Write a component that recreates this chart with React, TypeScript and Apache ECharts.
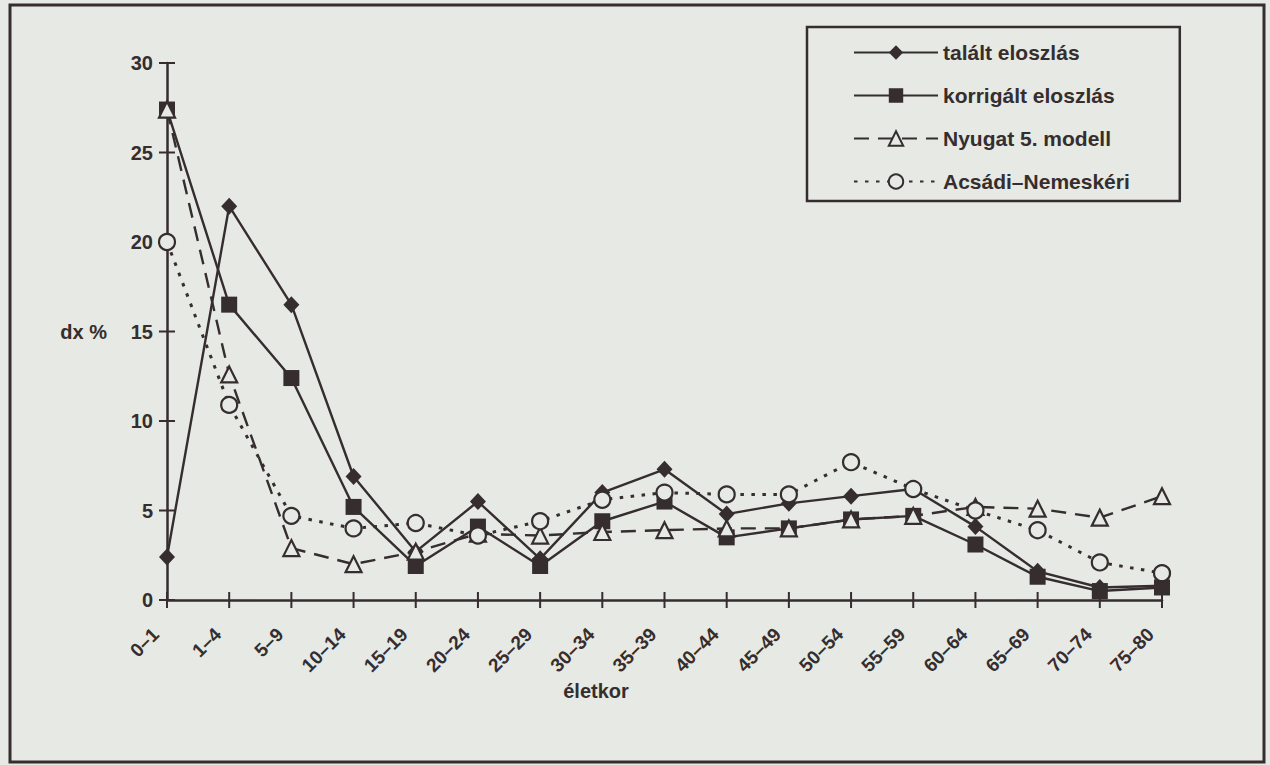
import React, { useEffect, useRef } from "react";
import * as echarts from "echarts";

const categories = ["0–1", "1–4", "5–9", "10–14", "15–19", "20–24", "25–29", "30–34", "35–39", "40–44", "45–49", "50–54", "55–59", "60–64", "65–69", "70–74", "75–80"];
const talalt = [2.4, 22.0, 16.5, 6.9, 2.7, 5.5, 2.3, 6.0, 7.3, 4.8, 5.4, 5.8, 6.2, 4.1, 1.6, 0.7, 0.8];
const korrigalt = [27.4, 16.5, 12.4, 5.2, 1.9, 4.1, 1.9, 4.4, 5.5, 3.5, 4.0, 4.5, 4.7, 3.1, 1.3, 0.5, 0.7];
const nyugat = [27.4, 12.6, 2.9, 2.0, 2.7, 3.7, 3.6, 3.8, 3.9, 4.0, 4.0, 4.5, 4.7, 5.2, 5.1, 4.6, 5.8];
const acsadi = [20.0, 10.9, 4.7, 4.0, 4.3, 3.6, 4.4, 5.6, 6.0, 5.9, 5.9, 7.7, 6.2, 5.0, 3.9, 2.1, 1.5];
const seriesNames = ["talált eloszlás", "korrigált eloszlás", "Nyugat 5. modell", "Acsádi–Nemeskéri"];
const yTickValues = [0, 5, 10, 15, 20, 25, 30];

const INK = "#352d2e";
const BG = "#e6e9e4";
const FONT = "'Liberation Sans', Arial, sans-serif";
const TICK = 8;

export default function App() {
  const ref = useRef<HTMLDivElement>(null);
  useEffect(() => {
    const chart = echarts.init(ref.current!, null, { renderer: "svg" });
    const lineStyleAxis = { color: INK, width: 2.5 };
    const mk = (name: string, data: number[], symbol: string, size: any, hollow: boolean, lineType: any, width: number) => ({
      type: "line",
      name,
      data,
      symbol,
      symbolSize: size,
      showAllSymbol: true,
      z: 5,
      lineStyle: { color: INK, width, type: lineType, cap: "butt" },
      itemStyle: hollow
        ? { color: BG, borderColor: INK, borderWidth: 2.2 }
        : { color: INK, borderColor: INK, borderWidth: 0 },
      emphasis: { disabled: true },
    });
    const staticGraphics: any[] = [
      {
        id: "xname",
        type: "text",
        x: 596,
        y: 691,
        style: { text: "életkor", fill: INK, font: `bold 20px ${FONT}`, textAlign: "center", textVerticalAlign: "middle" },
      },
      {
        id: "frame",
        type: "rect",
        shape: { x: 10, y: 5, width: 1254, height: 757 },
        style: { fill: "none", stroke: INK, lineWidth: 3 },
        silent: true,
      },
    ];
    chart.setOption({
      animation: false,
      backgroundColor: BG,
      textStyle: { fontFamily: FONT },
      grid: { left: 167, right: 108, top: 63, bottom: 165 },
      legend: {
        orient: "vertical",
        left: 807,
        top: 27,
        itemWidth: 84,
        itemHeight: 18,
        itemGap: 22,
        padding: [15, 50, 9, 46],
        borderColor: INK,
        borderWidth: 2.5,
        backgroundColor: BG,
        textStyle: { fontSize: 21, fontWeight: "bold", color: INK, fontFamily: FONT },
        data: seriesNames,
      },
      xAxis: {
        type: "category",
        data: categories,
        boundaryGap: false,
        axisLine: { lineStyle: lineStyleAxis },
        axisTick: { show: false },
        axisLabel: {
          rotate: 45,
          margin: 20,
          padding: [0, 16, 0, 0],
          color: INK,
          fontSize: 19,
          fontWeight: "bold",
          interval: 0,
          fontFamily: FONT,
        },
        splitLine: { show: false },
      },
      yAxis: {
        type: "value",
        min: 0,
        max: 30,
        interval: 5,
        axisLine: { show: true, lineStyle: lineStyleAxis },
        axisTick: { show: false },
        axisLabel: { color: INK, fontSize: 20, fontWeight: "bold", margin: 14, fontFamily: FONT },
        splitLine: { show: false },
        name: "dx %",
        nameLocation: "middle",
        nameRotate: 0,
        nameGap: 60,
        nameTextStyle: { color: INK, fontSize: 20, fontWeight: "bold", fontFamily: FONT },
      },
      series: [
        mk(seriesNames[0], talalt, "diamond", [16, 17], false, "solid", 2.4),
        mk(seriesNames[1], korrigalt, "rect", 16, false, "solid", 2.4),
        mk(seriesNames[2], nyugat, "triangle", 16, true, [15, 9], 2.4),
        mk(seriesNames[3], acsadi, "circle", 16, true, [3.5, 7.5], 3),
      ],
      graphic: staticGraphics,
    });
    // crossing tick marks, positioned through the chart's own scales
    const ticks: any[] = [];
    categories.forEach((_c, i) => {
      const p = chart.convertToPixel({ gridIndex: 0 }, [i, 0]) as number[];
      ticks.push({
        type: "line",
        z: 1,
        silent: true,
        shape: { x1: p[0], y1: p[1] - TICK, x2: p[0], y2: p[1] + TICK },
        style: { stroke: INK, lineWidth: 2 },
      });
    });
    yTickValues.forEach((v) => {
      const p = chart.convertToPixel({ gridIndex: 0 }, [0, v]) as number[];
      ticks.push({
        type: "line",
        z: 1,
        silent: true,
        shape: { x1: p[0] - TICK, y1: p[1], x2: p[0] + TICK, y2: p[1] },
        style: { stroke: INK, lineWidth: 2 },
      });
    });
    chart.setOption({ graphic: [...staticGraphics, ...ticks] });
    return () => chart.dispose();
  }, []);
  return <div ref={ref} style={{ position: "absolute", left: 0, top: 0, width: 1270, height: 765 }} />;
}
